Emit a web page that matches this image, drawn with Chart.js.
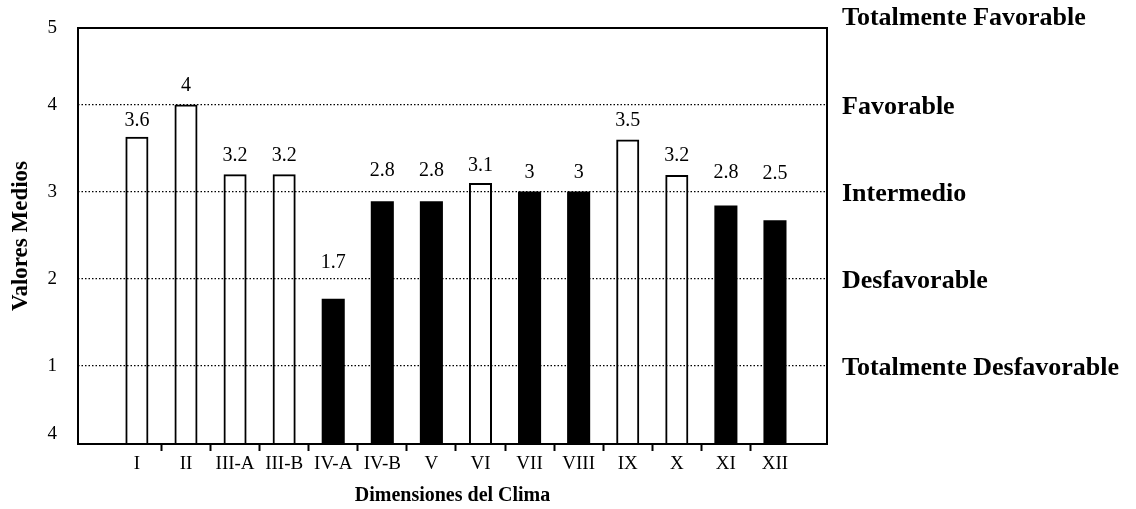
<!DOCTYPE html>
<html>
<head>
<meta charset="utf-8">
<script src="https://cdn.jsdelivr.net/npm/chart.js@4"></script>
<style>
    body { margin: 0; background: #fff; }
    #wrap { width: 1136px; height: 509px; }
</style>
</head>
<body>
<div id="wrap"><canvas id="climaChart"></canvas></div>
<script>
// Dimensiones del clima (eje X)
const categories = ['I', 'II', 'III-A', 'III-B', 'IV-A', 'IV-B', 'V', 'VI', 'VII', 'VIII', 'IX', 'X', 'XI', 'XII'];

// alturas de las barras (blancas / negras)
const openBars  = [3.63, 4.0, 3.2, 3.2, null, null, null, 3.1, null, null, 3.6, 3.19, null, null];
const solidBars = [null, null, null, null, 1.77, 2.89, 2.89, null, 3.0, 3.0, null, null, 2.84, 2.67];

// cifras impresas sobre cada barra
const printedValues = ['3.6', '4', '3.2', '3.2', '1.7', '2.8', '2.8', '3.1', '3', '3', '3.5', '3.2', '2.8', '2.5'];
// nivel (en unidades del eje) donde está escrita cada cifra
const printedAt = [3.82, 4.22, 3.41, 3.41, 2.18, 3.24, 3.24, 3.30, 3.22, 3.22, 3.82, 3.41, 3.22, 3.21];

// etiquetas de los ejes Y
const leftTickLabels = ['4', '1', '2', '3', '4', '5'];
const rightTickLabels = ['Totalmente Desfavorable', 'Desfavorable', 'Intermedio', 'Favorable', 'Totalmente Favorable'];

const Y_MIN = 0.1;
const Y_MAX = 4.88;
const SERIF = "'Liberation Serif', 'Times New Roman', serif";

function toPoints(values) {
    return values.map((v, i) => ({ x: i + 1, y: v })).filter(p => p.y !== null);
}

// sin relleno extra por las etiquetas de los extremos
function noEdgePadding(scale) {
    scale.paddingTop = 0;
    scale.paddingBottom = 0;
    scale.paddingLeft = 0;
    scale.paddingRight = 0;
}

// marco alrededor del área del gráfico
const framePlugin = {
    id: 'frame',
    afterDraw(chart) {
        const { ctx, chartArea } = chart;
        ctx.save();
        ctx.strokeStyle = '#000';
        ctx.lineWidth = 2;
        ctx.strokeRect(chartArea.left, chartArea.top, chartArea.right - chartArea.left, chartArea.bottom - chartArea.top);
        ctx.restore();
    }
};

// cifras encima de las barras
const valueLabelPlugin = {
    id: 'valueLabels',
    afterDatasetsDraw(chart) {
        const { ctx } = chart;
        const xs = chart.scales.x;
        const ys = chart.scales.y;
        ctx.save();
        ctx.font = `20px ${SERIF}`;
        ctx.fillStyle = '#000';
        ctx.textAlign = 'center';
        ctx.textBaseline = 'middle';
        printedValues.forEach((txt, i) => {
            ctx.fillText(txt, xs.getPixelForValue(i + 1), ys.getPixelForValue(printedAt[i]));
        });
        ctx.restore();
    }
};

const ctx = document.getElementById('climaChart').getContext('2d');
new Chart(ctx, {
    type: 'bar',
    data: {
        datasets: [
            {
                label: 'abiertas',
                data: toPoints(openBars),
                backgroundColor: 'rgba(0,0,0,0)',
                borderColor: '#000',
                borderWidth: 2,
                barPercentage: 0.94,
                categoryPercentage: 1,
                grouped: false
            },
            {
                label: 'rellenas',
                data: toPoints(solidBars),
                backgroundColor: '#000',
                borderColor: '#000',
                borderWidth: 0,
                barPercentage: 0.94,
                categoryPercentage: 1,
                grouped: false
            }
        ]
    },
    options: {
        responsive: true,
        maintainAspectRatio: false,
        animation: false,
        layout: { autoPadding: false, padding: { top: 28, left: 0, right: 0, bottom: 0 } },
        plugins: {
            legend: { display: false },
            tooltip: { enabled: false }
        },
        scales: {
            x: {
                type: 'linear',
                position: 'bottom',
                offset: false,
                min: -0.2,
                max: 15.06,
                afterBuildTicks: scale => {
                    const t = [];
                    for (let i = 1; i <= categories.length; i++) {
                        t.push({ value: i });
                        if (i < categories.length) t.push({ value: i + 0.5 });
                    }
                    scale.ticks = t;
                },
                afterFit: scale => { scale.height = 65; noEdgePadding(scale); },
                ticks: {
                    autoSkip: false,
                    maxRotation: 0,
                    padding: 2,
                    color: '#000',
                    font: { family: SERIF, size: 19 },
                    callback: value => Number.isInteger(value) ? categories[value - 1] : ''
                },
                grid: {
                    offset: false,
                    drawOnChartArea: false,
                    drawTicks: true,
                    tickLength: 7,
                    tickWidth: 2,
                    tickColor: c => (c.tick && !Number.isInteger(c.tick.value)) ? '#000' : 'rgba(0,0,0,0)'
                },
                border: { display: false },
                title: {
                    display: true,
                    text: 'Dimensiones del Clima',
                    color: '#000',
                    font: { family: SERIF, size: 20, weight: 'bold' },
                    padding: { top: 0, bottom: 1 }
                }
            },
            y: {
                type: 'linear',
                position: 'left',
                min: Y_MIN,
                max: Y_MAX,
                afterBuildTicks: scale => {
                    scale.ticks = [Y_MIN, 1, 2, 3, 4, Y_MAX].map(v => ({ value: v }));
                },
                afterFit: scale => { scale.width = 78; noEdgePadding(scale); },
                ticks: {
                    padding: 21,
                    color: '#000',
                    font: { family: SERIF, size: 19, lineHeight: 1 },
                    callback: (value, index) => index === 0 ? [leftTickLabels[0], ''] : leftTickLabels[index]
                },
                grid: {
                    drawTicks: false,
                    lineWidth: 1.3,
                    color: c => (c.tick && Number.isInteger(c.tick.value) && c.tick.value >= 1 && c.tick.value <= 4) ? '#000' : 'rgba(0,0,0,0)'
                },
                border: { display: false, dash: [1.5, 2] },
                title: {
                    display: true,
                    text: 'Valores Medios',
                    color: '#000',
                    font: { family: SERIF, size: 23, weight: 'bold' },
                    padding: { top: 7, bottom: 0 }
                }
            },
            yR: {
                type: 'linear',
                position: 'right',
                min: Y_MIN,
                max: Y_MAX,
                afterBuildTicks: scale => {
                    scale.ticks = [1, 2, 3, 4, Y_MAX].map(v => ({ value: v }));
                },
                afterFit: scale => { scale.width = 309; noEdgePadding(scale); },
                ticks: {
                    padding: 15,
                    labelOffset: 3,
                    color: '#000',
                    font: { family: SERIF, size: 26, weight: 'bold', lineHeight: 1 },
                    callback: (value, index) => index === 4 ? [rightTickLabels[4], ''] : rightTickLabels[index]
                },
                grid: { display: false, drawTicks: false },
                border: { display: false }
            }
        }
    },
    plugins: [framePlugin, valueLabelPlugin]
});
</script>
</body>
</html>
